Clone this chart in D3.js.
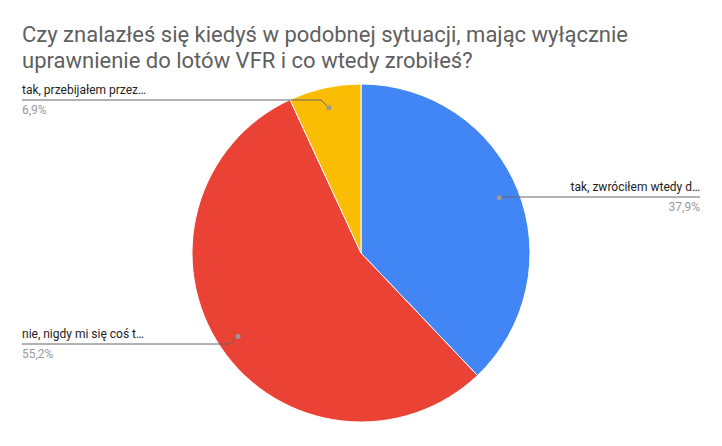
<!DOCTYPE html>
<html><head><meta charset="utf-8">
<script src="https://cdn.jsdelivr.net/npm/d3@7"></script>
<style>body{margin:0;background:#fff}</style></head>
<body><svg id="c" width="722" height="446"></svg>
<script>
const categories = ["tak, zwróciłem wtedy d…", "nie, nigdy mi się coś t…", "tak, przebijałem przez…"];
const values = [37.9, 55.2, 6.9];
const valueLabels = ["37,9%", "55,2%", "6,9%"];
const colors = ["#4285f4", "#ea4335", "#fbbc04"];

const svg = d3.select("#c");
const font = "Roboto, Arial, sans-serif";
svg.append("text").attr("x", 22).attr("y", 42).attr("font-family", font).attr("font-size", 22).attr("fill", "#5f5f5f")
  .text("Czy znalazłeś się kiedyś w podobnej sytuacji, mając wyłącznie");
svg.append("text").attr("x", 22).attr("y", 68).attr("font-family", font).attr("font-size", 22).attr("fill", "#5f5f5f")
  .text("uprawnienie do lotów VFR i co wtedy zrobiłeś?");

const cx = 361, cy = 253, r = 169;
const pie = d3.pie().sort(null).value(d => d)(values);
const arc = d3.arc().innerRadius(0).outerRadius(r);
const g = svg.append("g").attr("transform", `translate(${cx},${cy})`);
g.selectAll("path").data(pie).join("path").attr("d", arc)
  .attr("fill", (d, i) => colors[i]).attr("stroke", "#fff").attr("stroke-width", 1);

// label layout: [side, lineY, textX]
const layout = [
  {side: "right", y: 197},
  {side: "left", y: 344},
  {side: "left", y: 100}
];
const inner = d3.arc().innerRadius(r * 0.88).outerRadius(r * 0.88);
pie.forEach((d, i) => {
  const [px, py] = inner.centroid(d);
  const x0 = cx + px, y0 = cy + py;
  const L = layout[i];
  const xEnd = L.side === "right" ? 700 : 22;
  svg.append("path").attr("d", `M${x0},${y0}L${x0 + (L.side==="right"?8:-8)},${L.y}L${xEnd},${L.y}`)
    .attr("fill", "none").attr("stroke", "#666").attr("stroke-width", 1);
  svg.append("circle").attr("cx", x0).attr("cy", y0).attr("r", 2.5).attr("fill", "#999");
  const anchor = L.side === "right" ? "end" : "start";
  svg.append("text").attr("x", xEnd).attr("y", L.y - 6).attr("text-anchor", anchor)
    .attr("font-family", font).attr("font-size", 12).attr("fill", "#222").text(categories[i]);
  svg.append("text").attr("x", xEnd).attr("y", L.y + 14).attr("text-anchor", anchor)
    .attr("font-family", font).attr("font-size", 12).attr("fill", "#9a9a9a").text(valueLabels[i]);
});
</script></body></html>
